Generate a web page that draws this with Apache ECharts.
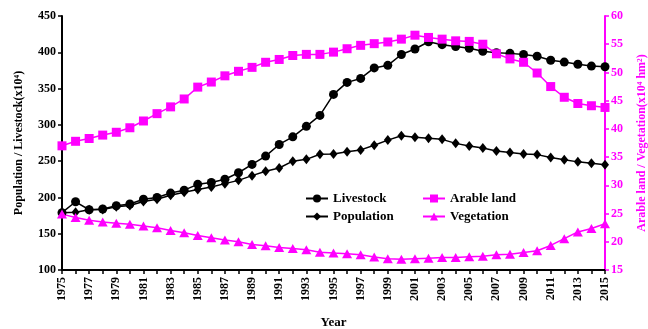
<!DOCTYPE html>
<html>
<head>
<meta charset="utf-8">
<script src="https://cdn.jsdelivr.net/npm/echarts@6/dist/echarts.min.js"></script>
<style>
  html, body { margin: 0; padding: 0; background: #fff; }
  #chart { width: 648px; height: 329px; }
</style>
</head>
<body>
<div id="chart"></div>
<script>
// Years 1975–2015
const years = [];
for (let y = 1975; y <= 2015; y++) years.push(String(y));

// Livestock (x10^4), left axis
const livestock = [179, 194, 183, 184, 188.5, 191, 197.5, 200, 206, 210,
  218, 220.5, 225, 234, 245.5, 257, 273, 283.5, 298, 313,
  342, 358.5, 364, 378.5, 382, 397, 404.5, 414.5, 410.5, 408,
  405.5, 401.5, 399.5, 398.5, 397, 394.5, 389, 386.5, 383.5, 381, 380];

// Population (x10^4), left axis
const population = [179, 179.5, 183, 183.5, 187, 189, 194.5, 197.5, 203, 207,
  211, 214.5, 219, 223.5, 230, 236, 240.5, 250, 252.5, 259.5,
  260, 263, 265.5, 272, 279, 285, 283, 281.5, 280, 274.5,
  271, 268, 264, 262, 260, 259, 255, 252, 249, 247, 245];

// Arable land (x10^4 hm2), right axis
const arable = [37.0, 37.8, 38.3, 38.9, 39.4, 40.2, 41.4, 42.7, 43.9, 45.3,
  47.4, 48.3, 49.4, 50.2, 50.9, 51.8, 52.3, 53.0, 53.2, 53.2,
  53.6, 54.2, 54.8, 55.1, 55.4, 55.9, 56.6, 56.2, 55.9, 55.6,
  55.5, 55.0, 53.3, 52.4, 51.8, 49.9, 47.5, 45.6, 44.5, 44.1, 43.8];

// Vegetation (x10^4 hm2), right axis
const vegetation = [24.9, 24.3, 23.8, 23.5, 23.3, 23.1, 22.8, 22.5, 22.0, 21.6,
  21.1, 20.7, 20.3, 20.0, 19.5, 19.3, 19.0, 18.8, 18.6, 18.15,
  18.0, 17.9, 17.7, 17.3, 17.0, 16.9, 17.0, 17.1, 17.2, 17.2,
  17.35, 17.45, 17.7, 17.8, 18.1, 18.4, 19.35, 20.55, 21.75, 22.35, 23.2];

const BLACK = '#000000';
const MAGENTA = '#ff00ff';
const FONT = 'Liberation Serif';

const chart = echarts.init(document.getElementById('chart'), null, { renderer: 'canvas' });

const legendText = { fontFamily: FONT, fontWeight: 'bold', fontSize: 13, color: BLACK };

chart.setOption({
  animation: false,
  backgroundColor: '#ffffff',
  grid: { left: 62, right: 43, top: 16, bottom: 59, containLabel: false, outerBoundsMode: 'none' },
  legend: [
    {
      data: ['Livestock', 'Population'],
      orient: 'vertical',
      left: 300, top: 187,
      itemWidth: 22, itemHeight: 10, itemGap: 5,
      textStyle: legendText
    },
    {
      data: ['Arable land', 'Vegetation'],
      orient: 'vertical',
      left: 417, top: 187,
      itemWidth: 22, itemHeight: 10, itemGap: 5,
      textStyle: legendText
    }
  ],
  xAxis: {
    type: 'category',
    data: years,
    boundaryGap: false,
    name: 'Year',
    nameLocation: 'middle',
    nameGap: 46,
    nameTextStyle: { fontFamily: FONT, fontWeight: 'bold', fontSize: 13, color: BLACK },
    axisLine: { lineStyle: { color: BLACK, width: 2 } },
    axisTick: { show: true, interval: 0, length: 4, lineStyle: { color: BLACK, width: 1.5 } },
    axisLabel: {
      interval: 1,
      rotate: 90,
      margin: 7,
      fontFamily: FONT, fontWeight: 'bold', fontSize: 12, color: BLACK
    },
    splitLine: { show: false }
  },
  yAxis: [
    {
      type: 'value',
      min: 100, max: 450, interval: 50,
      position: 'left',
      name: 'Population / Livestock(x10\u2074)',
      nameLocation: 'middle',
      nameGap: 37,
      nameTextStyle: { fontFamily: FONT, fontWeight: 'bold', fontSize: 12, color: BLACK },
      axisLine: { show: true, lineStyle: { color: BLACK, width: 2 } },
      axisTick: { show: true, length: 4, lineStyle: { color: BLACK, width: 1.5 } },
      axisLabel: { margin: 6, fontFamily: FONT, fontWeight: 'bold', fontSize: 12, color: BLACK },
      splitLine: { show: false }
    },
    {
      type: 'value',
      min: 15, max: 60, interval: 5,
      position: 'right',
      name: 'Arable land / Vegetation(x10\u2074 hm\u00b2)',
      nameLocation: 'middle',
      nameGap: 31,
      nameRotate: 90,
      nameTextStyle: { fontFamily: FONT, fontWeight: 'bold', fontSize: 12, color: MAGENTA },
      axisLine: { show: true, lineStyle: { color: MAGENTA, width: 2 } },
      axisTick: { show: true, length: 4, lineStyle: { color: MAGENTA, width: 1.5 } },
      axisLabel: { margin: 6, fontFamily: FONT, fontWeight: 'bold', fontSize: 12, color: MAGENTA },
      splitLine: { show: false }
    }
  ],
  series: [
    {
      name: 'Livestock', type: 'line', yAxisIndex: 0, data: livestock,
      symbol: 'circle', symbolSize: 9, showAllSymbol: true,
      itemStyle: { color: BLACK },
      lineStyle: { color: BLACK, width: 1.5 }
    },
    {
      name: 'Population', type: 'line', yAxisIndex: 0, data: population,
      symbol: 'diamond', symbolSize: [8, 10], showAllSymbol: true,
      itemStyle: { color: BLACK },
      lineStyle: { color: BLACK, width: 1.5 }
    },
    {
      name: 'Arable land', type: 'line', yAxisIndex: 1, data: arable,
      symbol: 'rect', symbolSize: 9, showAllSymbol: true,
      itemStyle: { color: MAGENTA },
      lineStyle: { color: MAGENTA, width: 1.5 }
    },
    {
      name: 'Vegetation', type: 'line', yAxisIndex: 1, data: vegetation,
      symbol: 'triangle', symbolSize: [10, 9], showAllSymbol: true,
      itemStyle: { color: MAGENTA },
      lineStyle: { color: MAGENTA, width: 1.5 }
    }
  ]
});
</script>
</body>
</html>
